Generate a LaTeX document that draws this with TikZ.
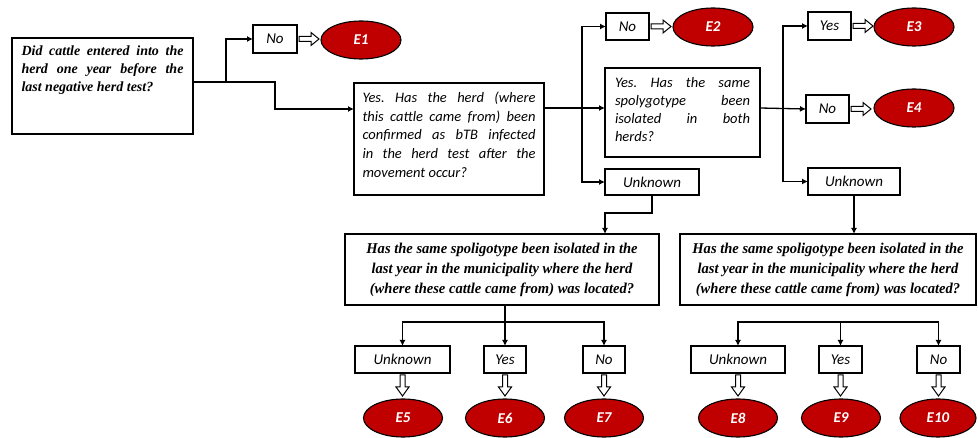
\documentclass[tikz,border=0pt]{standalone}
\usepackage{fontspec}
\setmainfont{Carlito}
\newfontfamily\tms{Liberation Serif}
\newfontfamily\tmsc{Liberation Serif}[FakeStretch=0.97]
\usetikzlibrary{arrows.meta,shapes.geometric,calc}
\definecolor{endred}{HTML}{C00000}
\newcommand\harr[1]{\draw[hollow] ($(#1)+(2,0)$) ++(0,-2.5) -- ++(12,0) -- ++(0,-4) -- ++(8,6.5) -- ++(-8,6.5) -- ++(0,-4) -- ++(-12,0) -- cycle;}
\newcommand\varr[1]{\draw[hollow] ($(#1)+(0,2)$) ++(-2.5,0) -- ++(0,12) -- ++(-4,0) -- ++(6.5,9) -- ++(6.5,-9) -- ++(-4,0) -- ++(0,-12) -- cycle;}
\frenchspacing
\begin{document}
\begin{tikzpicture}[x=1pt,y=-1pt,
  box/.style={draw, line width=1.3pt, inner sep=0pt, outer sep=0pt},
  lbl/.style={box, font=\itshape\fontsize{15}{17}\selectfont, minimum height=27pt},
  endn/.style={ellipse, draw, line width=1.1pt, fill=endred, text=white, inner sep=0pt,
     font=\bfseries\itshape\fontsize{15}{17}\selectfont, minimum width=80pt, minimum height=38pt},
  conn/.style={line width=1.3pt, -{Latex[length=6pt,width=6pt]}},
  plain/.style={line width=1.3pt},
  hollow/.style={draw, fill=white, line width=1pt, line join=miter},
  bigq/.style={box, minimum height=71pt, align=center,
     font=\tmsc\bfseries\itshape\fontsize{15}{20}\selectfont}]
\useasboundingbox (0,0) rectangle (978,438);
\hyphenpenalty=10000 \exhyphenpenalty=10000 \frenchspacing
% question boxes
\node[box, minimum width=181pt, minimum height=96pt] (q1) at (102.5,86)
  {\parbox[c][80pt][t]{162pt}{\frenchspacing\tms\bfseries\itshape\fontsize{14}{18}\selectfont
   Did cattle entered into the\linebreak herd one year before the\linebreak last negative herd test?}};
\node[box, minimum width=190pt, minimum height=112pt] (q2) at (449,139)
  {\parbox[c][94pt][t]{173pt}{\frenchspacing\itshape\fontsize{14.5}{18.7}\selectfont
   Yes. Has the herd (where\linebreak this cattle came from) been\linebreak confirmed as bTB infected\linebreak in the herd test after the\linebreak movement occur?}};
\node[box, minimum width=155pt, minimum height=89pt] (q3) at (682.5,112.5)
  {\parbox[c][71pt][t]{135pt}{\frenchspacing\itshape\fontsize{14.5}{18}\selectfont
   Yes. Has the same\linebreak spolygotype been\linebreak isolated in both\linebreak herds?}};
\node[bigq, minimum width=314pt] (q4) at (502,269.5)
  {Has the same spoligotype been isolated in the\\ last year in the municipality where the herd\\ (where these cattle came from) was located?};
\node[bigq, minimum width=296pt] (q5) at (828,269.5)
  {Has the same spoligotype been isolated in the\\ last year in the municipality where the herd\\ (where these cattle came from) was located?};
% label boxes
\node[lbl, minimum width=44pt, minimum height=28pt] (no1) at (275,39) {No};
\node[lbl, minimum width=43pt] (no2) at (627.5,26.5) {No};
\node[lbl, minimum width=43pt, minimum height=28pt] (yes3) at (829.5,26) {Yes};
\node[lbl, minimum width=43pt, minimum height=28pt] (no4) at (827.5,109) {No};
\node[lbl, minimum width=94pt, minimum height=26pt] (unk1) at (652,182) {Unknown};
\node[lbl, minimum width=92pt] (unk2) at (854,181.5) {Unknown};
\node[lbl, minimum width=95pt] (unk3) at (402.5,359.5) {Unknown};
\node[lbl, minimum width=42pt] (yes6) at (505,359.5) {Yes};
\node[lbl, minimum width=42pt] (no7) at (604,359.5) {No};
\node[lbl, minimum width=94pt] (unk4) at (738,359.5) {Unknown};
\node[lbl, minimum width=43pt] (yes9) at (840.5,359.5) {Yes};
\node[lbl, minimum width=43pt] (no10) at (938.5,359.5) {No};
% end ellipses
\node[endn] (e1) at (361,40) {E1};
\node[endn] (e2) at (713,27) {E2};
\node[endn] (e3) at (914,27) {E3};
\node[endn] (e4) at (914,108) {E4};
\node[endn, minimum width=79pt] (e5) at (403,418) {E5};
\node[endn, minimum width=79pt] (e6) at (505,418) {E6};
\node[endn, minimum width=79pt] (e7) at (604,418) {E7};
\node[endn, minimum width=79pt] (e8) at (738,418) {E8};
\node[endn, minimum width=79pt] (e9) at (841,418) {E9};
\node[endn, minimum width=76pt] (e10) at (938,418) {E10};
% branch coordinates
\coordinate (b1) at (226,82);
\coordinate (c1) at (275,109);
\coordinate (v1) at (582,108);
\coordinate (v2) at (783,108);
\coordinate (d1) at (605,213);
\coordinate (h1) at (505,322);
\coordinate (h2) at (840.5,322);
% connectors
\draw[plain] (q1.east|-b1) -- (b1);
\draw[conn] (b1) |- (no1.west);
\draw[conn] (b1) -| (c1) -- (q2.west|-c1);
\draw[conn] (q2.east|-v1) -- (q3.west|-v1);
\draw[conn] (v1) |- (no2.west);
\draw[conn] (v1) |- (unk1.west);
\draw[conn] (q3.east|-v2) -- (no4.west);
\draw[conn] (v2) |- (yes3.west);
\draw[conn] (v2) |- (unk2.west);
\draw[conn] (unk1.south) |- (d1) -- (d1|-q4.north);
\draw[conn] (unk2.south) -- (unk2.south|-q5.north);
\draw[conn] (q4.south-|h1) -- (yes6.north);
\draw[conn] (h1) -| (unk3.north);
\draw[conn] (h1) -| (no7.north);
\draw[conn] (h2) -- (yes9.north);
\draw[conn] (h2) -| (unk4.north);
\draw[conn] (h2) -| (no10.north);
% hollow block arrows
\harr{no1.east} \harr{no2.east} \harr{yes3.east} \harr{no4.east}
\varr{unk3.south} \varr{yes6.south} \varr{no7.south}
\varr{unk4.south} \varr{yes9.south} \varr{no10.south}
\end{tikzpicture}
\end{document}
